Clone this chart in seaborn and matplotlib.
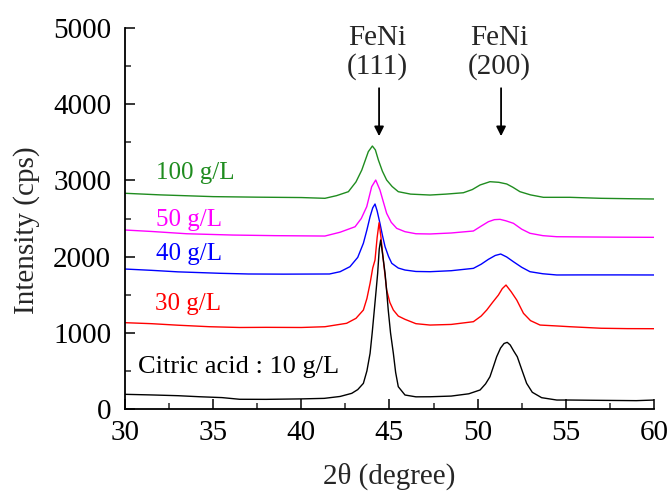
import numpy as np
import pandas as pd
import matplotlib
matplotlib.use("Agg")
import matplotlib.pyplot as plt
from matplotlib.ticker import MultipleLocator
import seaborn as sns

# ---- data ----
x_10 = [30, 31.5, 33, 34.25, 35.5, 36.5, 38, 40, 41.3, 42.2, 42.86, 43.2, 43.52, 43.72, 43.9,
        44.02, 44.14, 44.24, 44.33, 44.42, 44.5, 44.6, 44.75, 44.84, 44.93, 45.06, 45.22, 45.35,
        45.5, 45.88, 46.5, 47.3, 48.5, 49.5, 50.14, 50.45, 50.7, 50.9, 51.08, 51.3, 51.5, 51.68,
        51.85, 52.05, 52.25, 52.5, 52.78, 53.1, 53.63, 54.49, 55.24, 56.5, 58, 59, 60]
y_10 = [193, 185, 175, 161, 150, 128, 127, 133, 140, 165, 206, 255, 337, 500, 731,
        1000, 1299, 1550, 1781, 2100, 2218, 2050, 1781, 1550, 1299, 1000, 731, 480,
        293, 184, 160, 161, 170, 200, 250, 330, 424, 560, 686, 800, 860, 875,
        840, 760, 686, 520, 337, 220, 149, 118, 118, 115, 112, 110, 118]

x_30 = [30, 31.5, 33, 34.8, 36.5, 38, 40, 41.34, 42.57, 43.1, 43.52, 43.72, 43.9, 44.05, 44.18,
        44.3, 44.41, 44.52, 44.65, 44.75, 44.84, 45.02, 45.22, 45.5, 45.88, 46.5, 47.3, 48.5,
        49.76, 50.2, 50.52, 50.85, 51.18, 51.4, 51.61, 51.9, 52.22, 52.6, 53.0, 53.54, 54.5,
        55.24, 57, 58.5, 60]
y_30 = [1133, 1120, 1100, 1080, 1070, 1072, 1070, 1080, 1125, 1190, 1299, 1450, 1650, 1850, 1955,
        2250, 2445, 2250, 1955, 1750, 1562, 1400, 1299, 1220, 1177, 1120, 1102, 1110,
        1146, 1220, 1300, 1400, 1496, 1580, 1627, 1540, 1430, 1256, 1160, 1102, 1090,
        1080, 1060, 1055, 1054]

x_40 = [30, 31.5, 33, 35.4, 37, 39, 41.6, 42.2, 42.76, 43.2, 43.52, 43.72, 43.9, 44.05, 44.18,
        44.3, 44.46, 44.6, 44.75, 44.95, 45.13, 45.5, 45.88, 46.5, 47.3, 48.5, 49.76, 50.2,
        50.61, 51.0, 51.31, 51.65, 52.03, 52.5, 52.97, 53.7, 54.49, 56, 58, 60]
y_40 = [1837, 1820, 1800, 1781, 1772, 1770, 1772, 1802, 1868, 1990, 2175, 2350, 2524, 2640, 2690,
        2600, 2437, 2280, 2130, 2000, 1912, 1850, 1824, 1805, 1802, 1815, 1846, 1900,
        1964, 2015, 2034, 1995, 1933, 1860, 1802, 1775, 1759, 1760, 1760, 1759]

x_50 = [30, 31.5, 33.5, 36.1, 38.5, 41.34, 42.2, 43.05, 43.4, 43.71, 43.99, 44.22, 44.46, 44.65,
        44.84, 45.1, 45.41, 45.88, 46.5, 47.3, 48.5, 49.76, 50.2, 50.61, 50.95, 51.27, 51.6,
        52.03, 52.5, 52.97, 53.7, 54.49, 56, 58, 60]
y_50 = [2349, 2330, 2300, 2283, 2275, 2270, 2320, 2392, 2500, 2655, 2917, 3005, 2874, 2720,
        2568, 2450, 2371, 2327, 2300, 2297, 2310, 2336, 2400, 2458, 2485, 2489, 2470,
        2437, 2360, 2306, 2275, 2261, 2258, 2255, 2253]

x_100 = [30, 32, 35, 37.5, 40, 41.34, 42.0, 42.67, 43.1, 43.43, 43.8, 44.03, 44.2, 44.37, 44.6,
         44.84, 45.15, 45.5, 46.2, 47.3, 48.2, 49.19, 49.7, 50.14, 50.7, 51.2, 51.65, 52.0,
         52.4, 53.0, 53.73, 55.24, 57, 58.5, 60]
y_100 = [2831, 2810, 2787, 2780, 2775, 2765, 2800, 2852, 2980, 3136, 3377, 3451, 3400, 3268, 3120,
         3005, 2920, 2852, 2820, 2808, 2820, 2838, 2880, 2940, 2983, 2975, 2953, 2910,
         2852, 2810, 2778, 2778, 2765, 2760, 2756]

series_names = ["100 g/L", "50 g/L", "40 g/L", "30 g/L", "10 g/L"]
series_x = [x_100, x_50, x_40, x_30, x_10]
series_y = [y_100, y_50, y_40, y_30, y_10]
series_colors = ["#1f8c1f", "#ff00ff", "#0000ff", "#ff0000", "#000000"]

label_texts = ["100 g/L", "50 g/L", "40 g/L", "30 g/L", "Citric acid : 10 g/L"]
label_x = [31.75, 31.75, 31.75, 31.7, 30.75]
label_y = [3018, 2402, 1955, 1299, 472]
label_sizes = [18, 18, 18, 18, 19]

peak_labels = ["FeNi\n(111)", "FeNi\n(200)"]
peak_x = [44.41, 51.33]

x_ticks = [30, 35, 40, 45, 50, 55, 60]
y_ticks = [0, 1000, 2000, 3000, 4000, 5000]

# ---- build long table ----
frames = []
for name, xs, ys in zip(series_names, series_x, series_y):
    frames.append(pd.DataFrame({"two_theta": xs, "intensity": ys, "sample": name}))
df = pd.concat(frames, ignore_index=True)

sns.set_style("ticks")
plt.rcParams["font.family"] = ["Liberation Serif", "DejaVu Serif"]

fig = plt.figure(figsize=(6.7, 4.97), dpi=100)
ax = fig.add_axes([0.1866, 0.177, 0.7894, 0.7667])

sns.lineplot(data=df, x="two_theta", y="intensity", hue="sample",
             hue_order=series_names, palette=dict(zip(series_names, series_colors)),
             estimator=None, sort=True, linewidth=1.0, legend=False, ax=ax)

ax.set_xlim(30, 60)
ax.set_ylim(0, 5000)
ax.set_xticks(x_ticks)
ax.set_yticks(y_ticks)
ax.xaxis.set_minor_locator(MultipleLocator(2.5))
ax.yaxis.set_minor_locator(MultipleLocator(500))
ax.tick_params(which="major", direction="in", length=7.5, width=1.1, labelsize=21,
               colors="black")
ax.tick_params(axis="x", which="major", pad=8)
ax.tick_params(axis="y", which="major", pad=10)
ax.tick_params(which="minor", direction="in", length=4, width=1.1)

for s in ["top", "right"]:
    ax.spines[s].set_visible(False)
for s in ["left", "bottom"]:
    ax.spines[s].set_linewidth(1.3)
    ax.spines[s].set_color("black")

ax.set_xlabel("2θ (degree)", fontsize=21)
ax.set_ylabel("Intensity (cps)", fontsize=21)
ax.xaxis.set_label_coords(0.5, -0.142)
ax.yaxis.set_label_coords(-0.16, 0.47)

for t, lx, ly, c, fs in zip(label_texts, label_x, label_y, series_colors, label_sizes):
    ax.text(lx, ly, t, color=c, fontsize=fs, ha="left", va="baseline")

for t, px in zip(peak_labels, peak_x):
    ax.text(px - 0.1, 4680, t, fontsize=21, ha="center", va="center", linespacing=1.12)
    ax.annotate("", xy=(px, 3580), xytext=(px, 4210),
                arrowprops=dict(arrowstyle="-|>", color="black", lw=1.3,
                                mutation_scale=14, shrinkA=0, shrinkB=0))

fig.savefig("out.png", dpi=100)
